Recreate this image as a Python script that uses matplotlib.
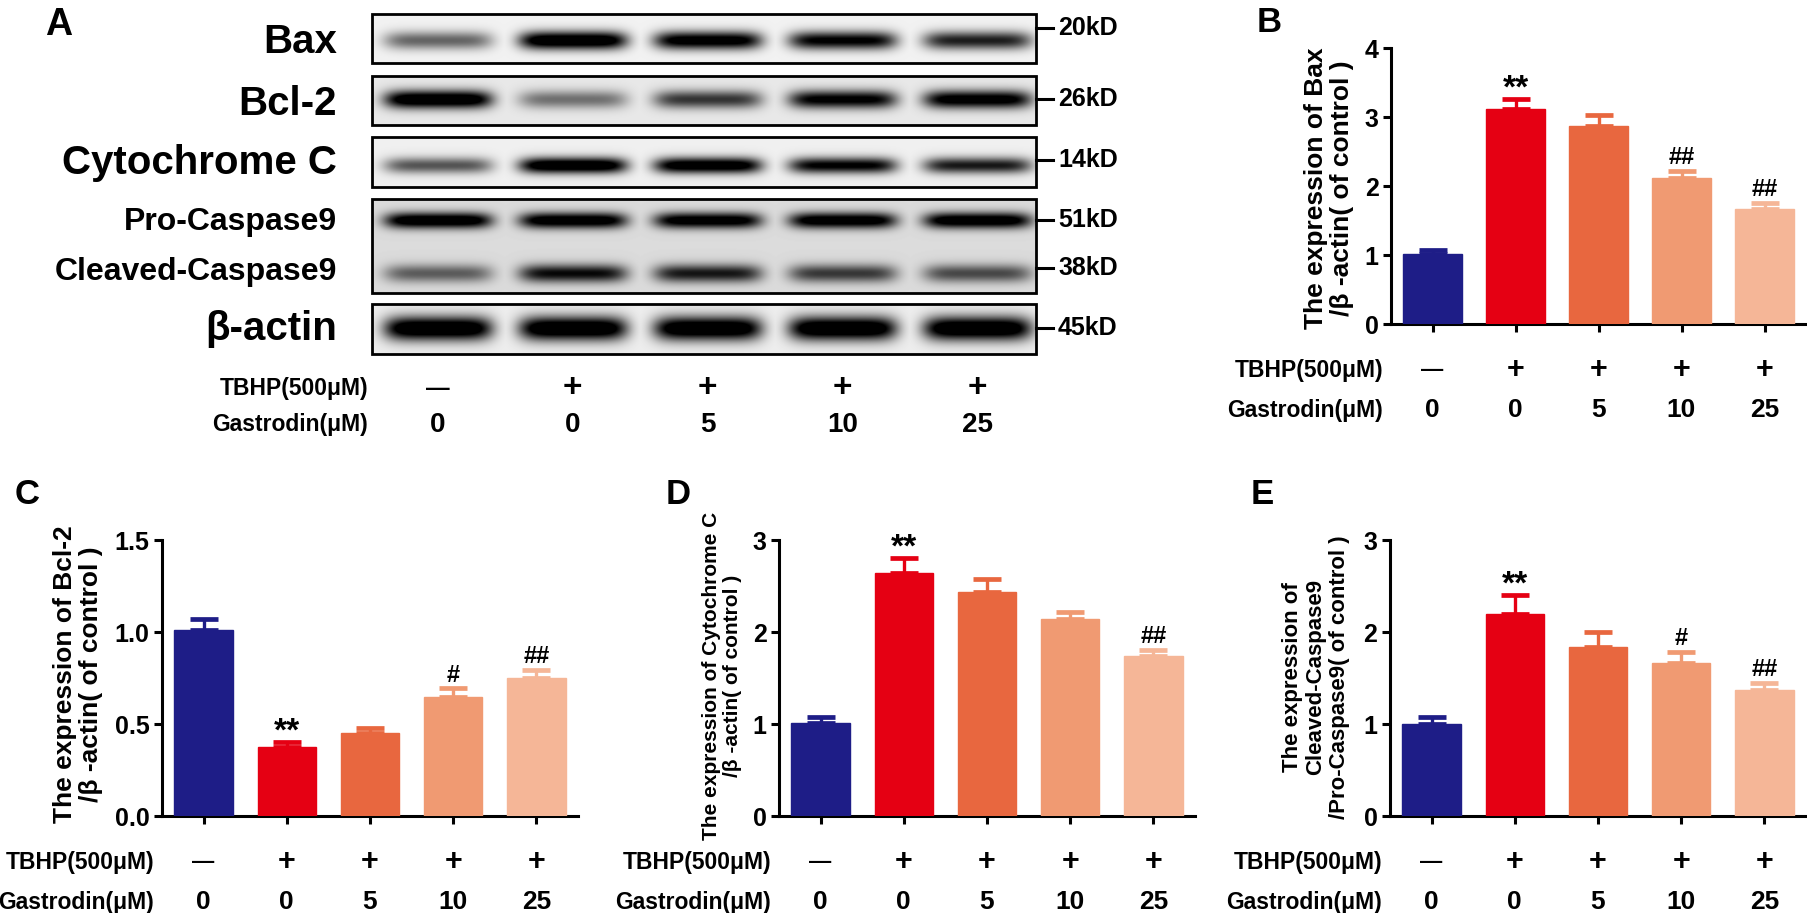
import numpy as np
import matplotlib
matplotlib.use("Agg")
import matplotlib.pyplot as plt

plt.rcParams["font.family"] = ["Liberation Sans", "DejaVu Sans"]
plt.rcParams["font.weight"] = "bold"

W, H = 1807, 913

# ─── DATA ────────────────────────────────────────────────────────────────────
tbhp = ["—", "+", "+", "+", "+"]
gastrodin = ["0", "0", "5", "10", "25"]
bar_colors = ["#1e1d87", "#e50013", "#e8673f", "#f09a72", "#f5b697"]

bax_mean = [1.01, 3.12, 2.87, 2.12, 1.67]
bax_err = [0.06, 0.14, 0.16, 0.10, 0.09]
bax_sig = ["", "**", "", "##", "##"]

bcl2_mean = [1.01, 0.375, 0.45, 0.645, 0.75]
bcl2_err = [0.06, 0.025, 0.027, 0.048, 0.045]
bcl2_sig = ["", "**", "", "#", "##"]

cytc_mean = [1.01, 2.64, 2.44, 2.14, 1.74]
cytc_err = [0.07, 0.16, 0.14, 0.08, 0.06]
cytc_sig = ["", "**", "", "", "##"]

casp_mean = [1.0, 2.20, 1.84, 1.66, 1.37]
casp_err = [0.08, 0.20, 0.16, 0.12, 0.08]
casp_sig = ["", "**", "", "#", "##"]

# western blot: band darkness per lane (0 = none, 1 = saturated)
blot_names = ["Bax", "Bcl-2", "Cytochrome C", "Pro-Caspase9", "Cleaved-Caspase9", "β-actin"]
blot_kd = ["20kD", "26kD", "14kD", "51kD", "38kD", "45kD"]
band_bax = [0.45, 0.97, 0.88, 0.80, 0.68]
band_bcl2 = [0.98, 0.40, 0.60, 0.82, 0.88]
band_cytc = [0.50, 0.96, 0.92, 0.80, 0.70]
band_pro = [0.96, 0.93, 0.90, 0.92, 0.94]
band_cleaved = [0.45, 0.75, 0.70, 0.58, 0.52]
band_actin = [0.99, 0.99, 0.98, 0.99, 0.99]

fig = plt.figure(figsize=(W / 100, H / 100), dpi=100)

# ─── PANEL A: western blot drawn in pixel coordinates ───────────────────────
axA = fig.add_axes([0, 0, 1, 1])
axA.set_xlim(0, W)
axA.set_ylim(H, 0)
axA.axis("off")

BL, BR = 372, 1036
lane_x = [66 + 134.8 * k for k in range(5)]

# strips: (top, bottom, background, [(band centre y, half height, intensities)])
strips = [
    (14, 63, 0.95, [(40, 9, band_bax)]),
    (76, 125, 0.91, [(99, 9, band_bcl2)]),
    (137, 187, 0.94, [(165, 8, band_cytc)]),
    (199, 293, 0.86, [(220, 8, band_pro), (273, 9, band_cleaved)]),
    (304, 354, 0.93, [(328, 12, band_actin)]),
]

for top, bot, bg, bands in strips:
    h, w = bot - top, BR - BL
    yy, xx = np.mgrid[0:h, 0:w]
    dark = np.zeros((h, w))
    for cy, bh, inten in bands:
        for lx, v in zip(lane_x, inten):
            p = np.exp(-((xx - lx) / 54.0) ** 6) * np.exp(-((yy - (cy - top)) / bh) ** 2)
            dark = np.maximum(dark, v * p)
    img = bg * (1 - np.clip(1.3 * dark, 0, 1))
    axA.imshow(img, cmap="gray", vmin=0, vmax=1, extent=(BL, BR, bot, top),
               origin="upper", aspect="auto", interpolation="bilinear", zorder=1)
    axA.add_patch(plt.Rectangle((BL, top), BR - BL, bot - top, fill=False,
                                edgecolor="black", linewidth=2.0, zorder=2))
axA.set_xlim(0, W)
axA.set_ylim(H, 0)

label_base = [53, 115, 174, 230, 280, 340]
label_size = [29, 29, 29, 23, 23, 29]
for name, yb, fs in zip(blot_names, label_base, label_size):
    axA.text(337, yb, name, fontsize=fs, ha="right", va="baseline", fontweight="bold")

kd_y = [28, 99, 160, 220, 268, 328]
for kd, yk in zip(blot_kd, kd_y):
    axA.plot([BR, BR + 17], [yk, yk], color="black", lw=2.2, zorder=3)
    axA.text(BR + 22, yk, kd, fontsize=18, ha="left", va="center", fontweight="bold")

axA.text(368, 388, "TBHP(500μM)", fontsize=16.5, ha="right", va="center")
axA.text(368, 425, "Gastrodin(μM)", fontsize=16.5, ha="right", va="center")
for lx, t, g in zip(lane_x, tbhp, gastrodin):
    axA.text(BL + lx, 388, t, fontsize=24 if t == "+" else 17, ha="center", va="center")
    axA.text(BL + lx, 425, g, fontsize=20, ha="center", va="center")

axA.text(45, 7, "A", fontsize=27, ha="left", va="top")


# ─── PANELS B-E: bar charts ──────────────────────────────────────────────────
def bar_panel(rect, means, errs, sigs, ymax, yticks, ylabels, letter, letter_xy,
              ylabel, ylabel_xy, ylabel_fs):
    x0, y0, x1, y1 = rect
    ax = fig.add_axes([x0 / W, 1 - y1 / H, (x1 - x0) / W, (y1 - y0) / H])
    x = np.arange(len(means))
    ax.bar(x, means, width=0.70, color=bar_colors, edgecolor=bar_colors,
           linewidth=1, zorder=3)
    for xi, m, e, c in zip(x, means, errs, bar_colors):
        ax.errorbar(xi, m, yerr=[[0], [e]], fmt="none", ecolor=c, elinewidth=2.4,
                    capsize=10, capthick=3.4, zorder=2)
    for xi, m, e, s in zip(x, means, errs, sigs):
        if not s:
            continue
        if "*" in s:
            ax.annotate(s, (xi, m + e), xytext=(0, 1), textcoords="offset points",
                        ha="center", va="baseline", fontsize=24)
        else:
            ax.annotate(s, (xi, m + e), xytext=(0, 5), textcoords="offset points",
                        ha="center", va="baseline", fontsize=17)
    ax.set_xlim(-0.5, len(means) - 0.5)
    ax.set_ylim(0, ymax)
    ax.set_yticks(yticks)
    ax.set_yticklabels(ylabels)
    ax.set_xticks(x)
    ax.set_xticklabels([])
    for sp in ("top", "right"):
        ax.spines[sp].set_visible(False)
    for sp in ("left", "bottom"):
        ax.spines[sp].set_linewidth(2.2)
    ax.tick_params(axis="both", direction="out", length=6, width=2.2, labelsize=18, pad=3)
    for lab in ax.get_yticklabels():
        lab.set_fontweight("bold")

    tr = ax.get_xaxis_transform()
    h = y1 - y0
    dx = -8 / (x1 - x0)
    ax.text(dx, -46 / h, "TBHP(500μM)", transform=ax.transAxes, fontsize=16.5,
            ha="right", va="center")
    ax.text(dx, -86 / h, "Gastrodin(μM)", transform=ax.transAxes, fontsize=16.5,
            ha="right", va="center")
    for xi, t, g in zip(x, tbhp, gastrodin):
        ax.text(xi, -46 / h, t, transform=tr, fontsize=22 if t == "+" else 16,
                ha="center", va="center")
        ax.text(xi, -86 / h, g, transform=tr, fontsize=19, ha="center", va="center")

    fig.text(letter_xy[0] / W, 1 - letter_xy[1] / H, letter, fontsize=25,
             ha="left", va="top")
    fig.text(ylabel_xy[0] / W, 1 - ylabel_xy[1] / H, ylabel, rotation=90,
             fontsize=ylabel_fs, ha="center", va="center", multialignment="center",
             linespacing=1.15)
    return ax


bar_panel((1391, 48, 1806, 324), bax_mean, bax_err, bax_sig, 4, [0, 1, 2, 3, 4],
          ["0", "1", "2", "3", "4"], "B", (1257, 6),
          "The expression of Bax\n/β -actin( of control )", (1329, 188), 19)

bar_panel((162, 540, 578, 816), bcl2_mean, bcl2_err, bcl2_sig, 1.5, [0, 0.5, 1.0, 1.5],
          ["0.0", "0.5", "1.0", "1.5"], "C", (15, 478),
          "The expression of Bcl-2\n/β -actin( of control )", (78, 674), 19)

bar_panel((779, 540, 1195, 816), cytc_mean, cytc_err, cytc_sig, 3, [0, 1, 2, 3],
          ["0", "1", "2", "3"], "D", (666, 478),
          "The expression of Cytochrome C\n/β -actin( of control )", (722, 676), 15)

bar_panel((1390, 540, 1806, 816), casp_mean, casp_err, casp_sig, 3, [0, 1, 2, 3],
          ["0", "1", "2", "3"], "E", (1251, 478),
          "The expression of\nCleaved-Caspase9\n/Pro-Caspase9( of control )", (1316, 677), 16)

fig.savefig("out.png", dpi=100)
